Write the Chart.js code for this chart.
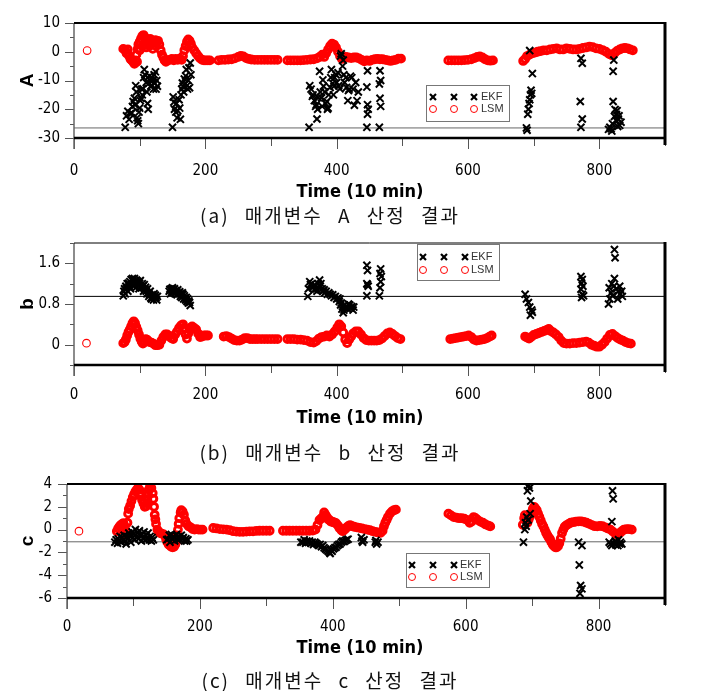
<!DOCTYPE html>
<html>
<head>
<meta charset="utf-8">
<script src="https://cdn.jsdelivr.net/npm/chart.js@4.4.0/dist/chart.umd.min.js"></script>
<style>
  body { margin: 0; background: #fff; width: 703px; height: 691px; position: relative; overflow: hidden; }
  canvas { position: absolute; left: 0; }
  .xt { position: absolute; left: 160px; width: 400px; text-align: center; height: 24px; line-height: 24px;
        font: bold 18px 'Liberation Sans Narrow', 'Arial Narrow', 'DejaVu Sans Condensed', 'Liberation Sans', sans-serif; color: #000; }
  .cap { position: absolute; left: 80px; width: 500px; text-align: center; height: 24px; line-height: 24px;
         font: 19px 'Noto Sans CJK KR', sans-serif; letter-spacing: 2px; word-spacing: 9px; color: #111; }
</style>
</head>
<body>
<canvas id="chartA" width="703" height="190" style="top:0px"></canvas>
<canvas id="chartB" width="703" height="190" style="top:220px"></canvas>
<canvas id="chartC" width="703" height="190" style="top:460px"></canvas>
<div class="xt" style="top:180px">Time (10 min)</div>
<div class="cap" style="top:201px">(a) 매개변수 A 산정 결과</div>
<div class="xt" style="top:406px">Time (10 min)</div>
<div class="cap" style="top:438px">(b) 매개변수 b 산정 결과</div>
<div class="xt" style="top:636px">Time (10 min)</div>
<div class="cap" style="top:666px">(c) 매개변수 c 산정 결과</div>
<script>
// x axis (time, 10 min steps)
const xLabels = [0, 200, 400, 600, 800];

// ---- parameter A ----
const yLabelsA = [-30, -20, -10, 0, 10];
const refA = -26.5;
const lsmA = [[20,0.4],
  [75,1.0],[78,0.5],[80,-0.5],[82,0.8],[84,-1.5],[86,-2.5],[88,-3.0],[90,-3.5],[92,-4.2],[94,-3.0],[95,-1.0],[96,-3.5],
  [97,1.0],[98,2.5],[100,3.5],[100,0.5],[102,4.5],[104,5.5],[104,2.0],[106,5.8],[108,5.0],[110,4.2],[110,1.5],[112,3.0],
  [114,4.0],[115,2.0],[116,4.5],[118,3.8],[120,3.0],[120,1.0],[122,3.5],[124,4.0],[125,2.0],[126,3.5],[128,3.8],[130,2.5],
  [132,0.5],[134,-1.0],[136,-2.0],[138,-3.0],[140,-3.5],[143,-3.0],[146,-2.8],[149,-2.5],[152,-3.0],[155,-2.5],[158,-2.8],
  [161,-2.4],[164,-2.8],[166,-1.5],[168,0.5],[170,2.0],[172,3.5],[174,4.3],[176,3.8],[178,2.8],[180,1.5],[183,0.5],
  [186,-0.5],[189,-1.5],[192,-2.3],[195,-2.8],[198,-3.0],[201,-3.0],[204,-3.0],[207,-3.0],
  [220,-3.0],[225,-2.8],[230,-2.8],[235,-2.7],[240,-2.6],[245,-2.3],[250,-1.8],[254,-1.4],[258,-1.6],[262,-2.2],[266,-2.5],
  [270,-2.7],[275,-2.8],[280,-2.8],[285,-2.8],[290,-2.8],[295,-2.8],[300,-2.8],[305,-2.8],[310,-2.8],
  [325,-3.0],[330,-3.0],[335,-3.0],[340,-3.0],[345,-3.0],[350,-2.9],[355,-2.8],[360,-2.7],[365,-2.6],[370,-2.3],[374,-1.8],
  [378,-1.0],[381,-1.8],[384,-0.5],[387,0.8],[390,2.0],[393,2.8],[396,2.5],[399,1.5],[402,0.0],[405,-1.5],[408,-2.5],
  [411,-2.0],[414,-1.8],[418,-2.0],[422,-2.2],[426,-2.0],[430,-2.0],[434,-2.3],[438,-2.8],[442,-3.3],[446,-3.0],[450,-3.2],
  [454,-2.8],[458,-2.6],[462,-2.5],[466,-2.6],[470,-2.6],[474,-2.8],[478,-3.0],[482,-3.2],[486,-3.0],[490,-2.8],[494,-2.4],[498,-2.4],
  [570,-3.0],[575,-3.0],[580,-3.0],[585,-3.0],[590,-3.0],[595,-2.9],[600,-2.8],[605,-2.6],[610,-2.2],[614,-1.8],[618,-1.6],
  [622,-2.0],[626,-2.6],[630,-3.0],[634,-3.1],[638,-3.0],
  [684,-3.2],[687,-2.5],[690,-1.5],[694,-1.0],[698,-0.5],[702,-0.3],[706,0.0],[710,0.2],[715,0.5],[720,0.5],[725,0.8],
  [730,1.0],[735,1.2],[740,0.8],[745,0.8],[750,1.2],[755,1.0],[760,0.8],[765,0.8],[770,1.0],[775,1.3],[780,1.5],[785,1.8],
  [790,1.6],[795,1.2],[800,1.0],[805,0.6],[810,0.0],[815,-0.8],[819,-1.2],[823,-0.5],[827,0.3],[831,0.8],[835,1.2],
  [839,1.3],[843,1.2],[847,0.8],[851,0.5]];
const ekfA = [
  [78,-26.3],[80,-22.3],[82,-20.7],[84,-23.5],[86,-21.5],[88,-21.3],[89,-19],[90,-17.3],[92,-16.2],[93,-18.5],[94,-11.8],
  [95,-14],[96,-23],[97,-24],[98,-25],[99,-21],[100,-19.6],[101,-17],[102,-16.2],[103,-13],[104,-15],[105,-12.9],[106,-9],
  [107,-6.2],[108,-8],[110,-10.7],[111,-14],[112,-18],[113,-20],[114,-11],[115,-8.4],[116,-10],[117,-12],[118,-11.8],
  [119,-9],[120,-10],[121,-13],[122,-8],[123,-11],[124,-7],[125,-13],[126,-10],[127,-12],
  [150,-26.3],[151,-15.7],[152,-17.5],[153,-20],[155,-21],[156,-18],[157,-23],[158,-20.5],[160,-16.7],[161,-19.6],
  [162,-23.5],[163,-15],[164,-13],[165,-10.9],[166,-12],[167,-14],[168,-9.5],[170,-8.4],[171,-6.2],[172,-11.8],[173,-13],
  [174,-10],[175,-5.6],[176,-12.5],[177,-3.9],[178,-8],
  [358,-26.3],[359,-11.8],[361,-13],[363,-15.5],[364,-15],[366,-17],[368,-19],[369,-18.4],[370,-23.4],[371,-20],[372,-16],
  [374,-6.8],[375,-14],[377,-16],[378,-19],[379,-9.8],[380,-12],[382,-14],[383,-18],[385,-17.3],[386,-20],[387,-19.6],
  [388,-15],[390,-12.4],[391,-9],[392,-6.2],[394,-11],[395,-15],[396,-12],[397,-9],[399,-8],[400,-10.7],[402,-7.3],
  [403,-11.8],[405,-12.9],[406,-1.5],[407,-0.7],[409,-5],[410,-2.9],[411,-8],[412,-10.7],[414,-9],[415,-12.4],[417,-17],
  [418,-13.5],[419,-13],[421,-8.5],[423,-9],[425,-13],[427,-18.6],[429,-10.7],[431,-17],[433,-14],
  [447,-6.6],[446,-12.3],[447,-18.4],[448,-20],[447,-21.7],[446,-26.3],
  [466,-6.6],[467,-10],[465,-11.2],[466,-16.2],[467,-19],[465,-26.3],
  [689,-26.5],[690,-27.3],[691,-21.7],[692,-20],[693,-18],[694,-16.7],[695,-15],[696,-13.4],[697,-14.5],[698,-7.6],[694,0.4],
  [772,-2.3],[774,-4],[771,-17.3],[774,-23.4],[772,-26.3],
  [822,-2.9],[821,-6.8],[821,-17.3],[824,-20.1],[826,-21.8],[829,-23.4],[816,-26.3],[819,-27.6],[831,-25.6],[814,-27],
  [820,-25],[826,-24],[830,-22.3],[827,-20.5],[833,-24.5],[818,-26.8],[823,-22.5],[828,-26]];

// ---- parameter b ----
const yLabelsB = [0, 0.8, 1.6];
const refB = 0.95;
const lsmB = [[19,0.03],
  [75,0.03],[77,0.05],[79,0.1],[81,0.18],[83,0.25],[85,0.3],[87,0.36],[89,0.42],[91,0.46],[93,0.42],[95,0.35],[97,0.28],
  [99,0.2],[101,0.12],[103,0.06],[105,0.02],[107,0.06],[109,0.11],[111,0.1],[113,0.07],[115,0.05],[118,0.04],[121,0.02],
  [124,-0.01],[127,-0.01],[130,0.0],[133,0.08],[136,0.15],[139,0.2],[142,0.2],[145,0.17],[148,0.13],[151,0.11],[154,0.2],
  [157,0.26],[160,0.33],[163,0.38],[166,0.4],[168,0.32],[170,0.2],[172,0.12],[174,0.22],[176,0.3],[178,0.34],[180,0.36],
  [183,0.33],[186,0.3],[189,0.22],[192,0.15],[195,0.16],[198,0.18],[201,0.18],[204,0.18],
  [228,0.16],[232,0.17],[236,0.15],[240,0.12],[244,0.09],[248,0.08],[252,0.08],[256,0.1],[260,0.13],[264,0.13],[268,0.11],
  [272,0.11],[276,0.11],[280,0.11],[285,0.11],[290,0.11],[295,0.11],[300,0.11],[305,0.11],[310,0.11],
  [325,0.11],[330,0.11],[335,0.11],[340,0.1],[345,0.1],[350,0.09],[355,0.08],[360,0.05],[365,0.04],[369,0.07],[373,0.12],
  [377,0.15],[381,0.16],[385,0.18],[389,0.16],[393,0.2],[397,0.26],[401,0.34],[404,0.4],[407,0.36],[410,0.24],[413,0.1],
  [416,0.03],[419,0.1],[422,0.16],[425,0.22],[429,0.26],[433,0.26],[437,0.2],[441,0.13],[445,0.09],[449,0.08],[453,0.08],
  [457,0.08],[461,0.08],[465,0.09],[469,0.12],[473,0.17],[477,0.22],[481,0.24],[485,0.21],[489,0.17],[493,0.13],[497,0.11],
  [573,0.11],[577,0.12],[581,0.13],[585,0.14],[589,0.15],[593,0.16],[597,0.17],[601,0.18],[605,0.15],[609,0.1],[613,0.08],
  [617,0.09],[621,0.1],[625,0.11],[629,0.13],[633,0.16],[636,0.18],
  [687,0.16],[690,0.14],[693,0.12],[696,0.15],[700,0.19],[704,0.21],[708,0.23],[712,0.25],[716,0.27],[720,0.29],[723,0.31],
  [726,0.27],[730,0.24],[734,0.2],[738,0.15],[742,0.08],[746,0.03],[750,0.02],[755,0.02],[760,0.03],[765,0.03],[770,0.04],
  [775,0.05],[780,0.06],[784,0.04],[788,0.0],[792,-0.02],[796,-0.04],[800,-0.04],[804,0.0],[808,0.05],[812,0.12],[816,0.19],
  [820,0.21],[824,0.17],[828,0.13],[832,0.1],[836,0.08],[840,0.05],[844,0.03],[848,0.02]];
const ekfB = [
  [75,0.96],[76,1.05],[77,1.1],[78,1.0],[79,1.15],[80,1.12],[81,1.2],[82,1.05],[83,1.21],[84,1.15],[85,1.24],[86,1.1],
  [87,1.28],[88,1.2],[89,1.3],[90,1.25],[91,1.15],[92,1.3],[93,1.21],[94,1.12],[95,1.27],[96,1.2],[97,1.25],[98,1.18],
  [99,1.1],[100,1.21],[101,1.26],[102,1.15],[103,1.12],[104,1.2],[105,1.15],[106,1.05],[107,1.18],[108,1.09],[109,1.13],
  [110,1.05],[111,1.0],[112,1.1],[113,1.02],[114,0.95],[115,0.99],[116,1.05],[117,0.92],[118,0.9],[119,0.98],[120,0.96],
  [121,0.88],[122,1.0],[123,0.92],[124,0.97],[125,0.93],[126,0.88],[127,0.95],
  [145,1.05],[146,1.09],[147,1.0],[148,1.1],[149,1.05],[150,1.12],[151,1.03],[152,1.08],[153,1.1],[154,1.0],[155,1.06],
  [156,1.05],[157,0.98],[158,1.08],[159,1.02],[160,1.0],[161,1.04],[162,0.95],[163,1.0],[164,0.93],[165,1.02],[166,0.99],
  [167,0.9],[168,0.96],[169,0.92],[170,0.88],[171,0.93],[172,0.85],[173,0.9],[174,0.82],[175,0.86],[176,0.83],[177,0.77],
  [356,0.95],[357,1.1],[359,1.24],[360,1.18],[362,1.2],[363,1.12],[364,1.15],[366,1.08],[367,1.17],[369,1.1],[370,1.05],
  [372,1.2],[374,1.27],[375,1.15],[376,1.2],[378,1.1],[379,1.05],[381,1.08],[382,1.02],[384,1.05],[386,0.99],[388,1.02],
  [390,0.99],[392,0.96],[394,0.98],[396,0.93],[398,0.95],[400,0.9],[402,0.92],[404,0.85],[405,0.9],[406,0.78],[407,0.82],
  [408,0.7],[409,0.75],[410,0.63],[411,0.68],[412,0.78],[413,0.72],[415,0.74],[417,0.7],[418,0.8],[420,0.78],[421,0.72],
  [423,0.75],[425,0.68],[426,0.74],
  [446,1.56],[447,1.46],[446,1.2],[448,1.15],[447,1.18],[446,0.96],
  [467,1.49],[466,1.4],[468,1.34],[467,1.24],[466,1.12],[465,0.96],
  [687,0.99],[689,0.9],[692,0.83],[694,0.74],[697,0.68],[695,0.58],[698,0.64],
  [772,1.34],[774,1.28],[773,1.21],[775,1.15],[772,1.09],[774,0.99],[773,0.93],[776,0.96],
  [823,1.87],[824,1.71],[823,1.3],[815,1.12],[818,1.02],[820,0.96],[816,0.9],[814,0.8],[826,1.1],[829,1.05],[832,1.0],
  [835,0.95],[822,1.15],[828,0.9],[831,1.15],[834,1.05],[819,1.2]];

// ---- parameter c ----
const yLabelsC = [-6, -4, -2, 0, 2, 4];
const refC = -1.07;
const lsmC = [[18,-0.14],
  [75,-0.14],[77,0.1],[79,0.28],[81,0.4],[83,0.5],[85,0.56],[87,0.3],[88,-0.1],[89,-0.4],[90,-0.3],[91,0.6],[92,1.4],
  [93,1.8],[95,2.1],[97,2.5],[99,2.85],[101,3.1],[103,3.35],[105,3.5],[107,3.65],[109,3.5],[110,3.2],[111,2.95],[113,2.6],
  [115,2.3],[117,2.0],[119,2.05],[120,2.3],[121,2.7],[122,3.1],[123,3.5],[125,3.8],[127,3.65],[129,3.2],[130,2.7],[131,2.0],
  [132,1.3],[133,0.9],[134,0.5],[136,0.0],[138,-0.2],[140,-0.28],[142,-0.35],[145,-0.4],[147,-0.5],[149,-0.8],[151,-1.1],
  [153,-1.3],[155,-1.4],[157,-1.5],[159,-1.55],[161,-1.5],[163,-1.3],[165,-1.0],[166,-0.5],[167,0.0],[168,0.5],[169,1.0],
  [171,1.5],[172,1.7],[174,1.6],[176,1.3],[178,0.8],[180,0.5],[183,0.3],[186,0.2],[189,0.05],[192,0.0],[195,0.05],
  [198,0.0],[201,0.0],[204,0.0],
  [220,0.14],[225,0.1],[230,0.05],[235,0.02],[240,0.0],[245,-0.05],[250,-0.14],[255,-0.18],[260,-0.2],[265,-0.2],
  [270,-0.18],[275,-0.15],[280,-0.15],[285,-0.12],[290,-0.1],[295,-0.1],[300,-0.1],[305,-0.1],
  [325,-0.1],[330,-0.1],[335,-0.1],[340,-0.1],[345,-0.1],[350,-0.1],[355,-0.1],[360,-0.1],[365,-0.1],[370,-0.08],[374,0.0],
  [377,0.4],[380,0.84],[383,1.0],[385,1.1],[387,1.5],[389,1.3],[391,1.1],[393,0.9],[395,0.84],[397,0.7],[399,0.7],
  [401,0.65],[403,0.6],[405,0.56],[408,0.35],[410,0.14],[413,-0.05],[415,-0.14],[418,0.0],[420,0.14],[423,0.3],[426,0.4],
  [429,0.3],[432,0.25],[436,0.2],[440,0.15],[444,0.1],[448,0.05],[452,0.0],[456,-0.05],[460,-0.14],[464,-0.2],[468,-0.25],
  [472,-0.28],[475,-0.1],[477,0.3],[479,0.6],[481,0.84],[483,1.1],[486,1.4],[489,1.6],[492,1.7],[495,1.75],
  [574,1.4],[578,1.25],[582,1.1],[586,1.05],[590,1.0],[594,1.0],[598,0.95],[602,0.85],[606,0.6],[609,0.7],[612,1.1],
  [615,1.0],[618,0.85],[622,0.7],[626,0.6],[630,0.45],[634,0.35],[637,0.28],
  [686,0.42],[688,1.0],[689,1.26],[691,0.9],[693,0.6],[695,0.9],[697,1.2],[699,1.4],[701,1.8],[703,2.0],[705,1.85],
  [707,1.7],[709,1.4],[711,1.1],[713,0.8],[715,0.5],[717,0.28],[719,0.0],[721,-0.28],[723,-0.5],[725,-0.7],[727,-0.84],
  [729,-1.1],[731,-1.3],[733,-1.45],[735,-1.55],[737,-1.55],[739,-1.45],[741,-1.2],[743,-0.8],[745,-0.3],[747,0.0],
  [749,0.25],[752,0.4],[755,0.5],[758,0.6],[762,0.65],[766,0.7],[770,0.72],[774,0.72],[778,0.68],[782,0.6],[786,0.5],
  [790,0.4],[794,0.3],[798,0.28],[802,0.32],[806,0.3],[810,0.2],[814,0.1],[818,0.0],[822,-0.2],[826,-0.4],[829,-0.45],
  [832,-0.3],[835,-0.14],[838,0.0],[842,0.05],[846,0.05],[850,0.0]];
const ekfC = [
  [72,-1.1],[74,-0.9],[76,-1.2],[77,-0.8],[79,-1.0],[80,-0.6],[82,-1.1],[83,-0.7],[85,-0.9],[86,-0.5],[88,-1.0],[89,-1.26],
  [90,-0.6],[92,-0.8],[93,-0.3],[95,-0.5],[96,-1.1],[98,-0.2],[99,-0.7],[100,-0.4],[102,-0.9],[103,0.0],[105,-0.6],
  [106,-0.3],[108,-0.8],[109,-0.1],[110,-0.5],[112,-1.0],[113,-0.4],[115,-0.7],[116,-0.2],[118,-0.9],[119,-0.5],[121,-0.8],
  [122,-0.3],[124,-0.9],[125,-0.6],[127,-1.0],[128,-0.7],[130,-0.9],
  [150,-0.9],[152,-0.84],[154,-0.5],[155,-1.1],[157,-0.42],[159,-0.8],[160,-0.6],[162,-1.0],[164,-0.5],[165,-0.42],
  [167,-0.9],[169,-0.6],[170,-0.84],[172,-0.5],[174,-0.8],[175,-0.7],[177,-1.0],[179,-0.8],[180,-1.0],[182,-0.9],
  [352,-1.1],[355,-1.1],[357,-0.9],[359,-1.2],[361,-1.0],[363,-1.1],[365,-1.0],[367,-1.2],[369,-1.1],[371,-1.3],[373,-1.1],
  [375,-1.2],[377,-1.3],[379,-1.4],[381,-1.3],[383,-1.5],[385,-1.4],[387,-1.6],[389,-1.7],[391,-1.8],[393,-1.9],[395,-2.0],
  [396,-2.1],[397,-1.8],[399,-1.9],[401,-1.7],[403,-1.6],[405,-1.55],[407,-1.4],[409,-1.3],[411,-1.26],[413,-1.1],
  [415,-1.0],[417,-1.05],[419,-0.95],[421,-0.9],[423,-0.84],
  [443,-0.7],[445,-1.1],[447,-0.9],[444,-1.0],[464,-1.1],[466,-1.26],[468,-1.1],[465,-0.95],
  [687,-1.1],[689,0.0],[690,0.6],[692,1.1],[693,3.4],[695,3.9],[696,3.65],[698,2.5],[697,1.4],[694,0.84],[691,0.3],
  [770,-1.1],[775,-1.4],[771,-3.1],[773,-4.9],[775,-5.2],[772,-5.6],
  [821,3.4],[822,2.7],[820,0.7],[818,-1.26],[820,-1.4],[827,-1.1],[832,-1.26],[825,-1.0],[829,-1.4],[835,-1.26],
  [823,-1.2],[816,-1.1],[830,-0.9],[833,-1.1],[826,-1.35]];

const tickFont = { family: "'Liberation Sans Narrow', 'Arial Narrow', 'DejaVu Sans Condensed', 'Liberation Sans', sans-serif", size: 15 };
const near = (list, v) => list.some(m => Math.abs(m - v) < 1e-6);
const toPts = arr => arr.map(([x, y]) => ({ x, y }));

// axis frame, tick marks and the small legend box
const framePlugin = {
  id: 'frame',
  afterDatasetsDraw(chart, args, o) {
    const { ctx, chartArea: a, scales: { x, y } } = chart;
    const seg = (x1, y1, x2, y2) => { ctx.beginPath(); ctx.moveTo(x1, y1); ctx.lineTo(x2, y2); ctx.stroke(); };
    ctx.save();
    ctx.strokeStyle = '#555';
    ctx.lineWidth = 1;
    x.ticks.forEach(t => {
      const px = Math.round(x.getPixelForValue(t.value)) + 0.5;
      seg(px, a.bottom, px, a.bottom + (near(xLabels, t.value) ? 11 : 8));
    });
    y.ticks.forEach(t => {
      const py = Math.round(y.getPixelForValue(t.value)) + 0.5;
      seg(a.left - (near(o.yLabels, t.value) ? 9 : 4), py, a.left, py);
    });
    ctx.strokeStyle = '#666';
    ctx.lineWidth = 1.5;
    seg(a.left, a.top, a.left, a.bottom + 11);
    ctx.strokeStyle = '#000';
    ctx.lineWidth = o.topW;
    seg(a.left, a.top, a.right, a.top);
    ctx.lineWidth = 2.5;
    seg(a.left, a.bottom, a.right, a.bottom);
    ctx.lineWidth = 3;
    seg(a.right, a.top - 1, a.right, a.bottom + 7);

    // legend
    const L = o.legend;
    ctx.strokeStyle = '#777';
    ctx.lineWidth = 1;
    ctx.strokeRect(L.x + 0.5, L.y + 0.5, L.w, L.h);
    ctx.font = "11px 'Liberation Sans', Arial, sans-serif";
    ctx.fillStyle = '#333';
    ctx.textBaseline = 'middle';
    L.marks.forEach(mx => {
      ctx.strokeStyle = '#000';
      ctx.lineWidth = 2.2;
      seg(mx - 3, L.r1 - 3, mx + 3, L.r1 + 3);
      seg(mx - 3, L.r1 + 3, mx + 3, L.r1 - 3);
      ctx.strokeStyle = '#f00';
      ctx.lineWidth = 1;
      ctx.beginPath(); ctx.arc(mx, L.r2, 3.5, 0, Math.PI * 2); ctx.stroke();
    });
    ctx.fillText('EKF', L.tx, L.r1);
    ctx.fillText('LSM', L.tx, L.r2);
    ctx.restore();
  }
};

function makeChart(id, c) {
  return new Chart(document.getElementById(id), {
    type: 'scatter',
    data: {
      datasets: [
        { label: 'EKF', data: toPts(c.ekf), pointStyle: 'crossRot', pointRadius: 5, borderColor: '#000',
          borderWidth: 2, backgroundColor: 'transparent', order: 1 },
        { label: 'LSM', data: toPts(c.lsm), pointStyle: 'circle',
          pointRadius: ctx => (c.lsm[ctx.dataIndex] && c.lsm[ctx.dataIndex][0] < 50) ? 3.8 : 3.4,
          borderColor: '#ff0000',
          borderWidth: ctx => (c.lsm[ctx.dataIndex] && c.lsm[ctx.dataIndex][0] < 50) ? 1.1 : 3,
          backgroundColor: 'transparent', order: 2 },
        { type: 'line', label: 'ref', data: [{ x: 0, y: c.ref }, { x: 900, y: c.ref }], borderColor: c.refColor,
          borderWidth: 1, pointRadius: 0, order: 3 }
      ]
    },
    options: {
      responsive: false,
      animation: false,
      events: [],
      layout: { padding: { top: c.padTop, right: 38, left: 0, bottom: 0 } },
      plugins: {
        legend: { display: false },
        tooltip: { enabled: false },
        frame: { yLabels: c.yLabels, topW: c.topW, legend: c.legend }
      },
      scales: {
        x: {
          type: 'linear', min: 0, max: 900,
          grid: { display: false, drawTicks: false },
          border: { display: false },
          ticks: { stepSize: 100, autoSkip: false, maxRotation: 0, padding: c.xPad, font: tickFont, color: '#000',
                   callback: v => near(xLabels, v) ? String(v) : '' },
          afterFit: s => { s.height = c.xH; }
        },
        y: {
          min: c.yMin, max: c.yMax,
          grid: { display: false, drawTicks: false },
          border: { display: false },
          ticks: { stepSize: c.step, autoSkip: false, padding: c.yPad, font: tickFont, color: '#000',
                   callback: v => near(c.yLabels, v) ? String(Math.round(v * 10) / 10) : '' },
          title: { display: true, text: c.title, color: '#000', padding: { top: 16 },
                   font: { family: "'Liberation Sans', Arial, sans-serif", size: 19, weight: 'bold' } },
          afterFit: s => { s.width = c.yW; }
        }
      }
    },
    plugins: [framePlugin]
  });
}

makeChart('chartA', { ekf: ekfA, lsm: lsmA, ref: refA, refColor: '#666', yMin: -30, yMax: 10, step: 5,
  yLabels: yLabelsA, title: 'A', padTop: 18, xH: 52, yW: 74, xPad: 24, yPad: 14, topW: 2,
  legend: { x: 426, y: 85, w: 83, h: 36, r1: 97, r2: 109, marks: [433, 454, 474], tx: 481 } });
makeChart('chartB', { ekf: ekfB, lsm: lsmB, ref: refB, refColor: '#000', yMin: -0.4, yMax: 2.0, step: 0.4,
  yLabels: yLabelsB, title: 'b', padTop: 18, xH: 45, yW: 74, xPad: 21, yPad: 14, topW: 1,
  legend: { x: 417, y: 24, w: 82, h: 36, r1: 37, r2: 50, marks: [423, 444, 465], tx: 471 } });
makeChart('chartC', { ekf: ekfC, lsm: lsmC, ref: refC, refColor: '#666', yMin: -6, yMax: 4, step: 1,
  yLabels: yLabelsC, title: 'c', padTop: 19, xH: 52, yW: 67, xPad: 20, yPad: 15, topW: 2,
  legend: { x: 406, y: 93, w: 83, h: 34, r1: 105, r2: 117, marks: [412, 433, 454], tx: 460 } });
</script>
</body>
</html>
